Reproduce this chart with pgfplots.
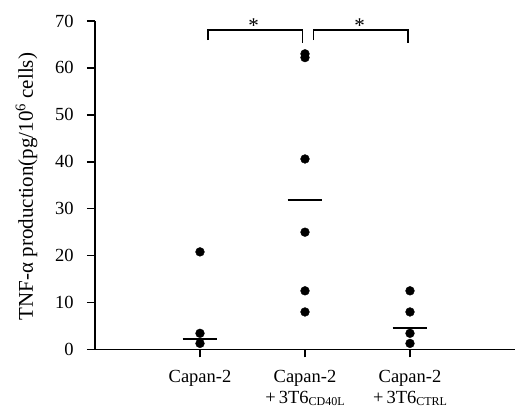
\documentclass[border=0pt]{standalone}
\usepackage{fontspec}
\setmainfont{Liberation Serif}
\usepackage{pgfplots}
\pgfplotsset{compat=1.18}
\newcommand\sub[1]{\raisebox{-2.5pt}{\fontsize{12}{12}\selectfont #1}}

\begin{document}
\fontsize{18.5}{21}\selectfont
\begin{tikzpicture}
\useasboundingbox (-95pt,-59.5pt) rectangle (420pt,349.5pt);
\begin{axis}[
  scale only axis, width=420pt, height=328.5pt,
  at={(0,0)}, anchor=south west,
  xmin=0, xmax=4, ymin=0, ymax=70,
  axis x line*=bottom, axis y line*=left,
  axis line style={-, line width=1.5pt},
  xtick={1,2,3},
  xticklabels={{Capan-2},{Capan-2\\+\,3T6\sub{CD40L}},{Capan-2\\+\,3T6\sub{CTRL}}},
  ytick={0,10,...,70},
  tick align=outside, major tick length=8pt,
  tick style={black, line width=1.5pt},
  tick label style={font=\fontsize{18.5}{21}\selectfont},
  xticklabel style={align=center, yshift=-6pt},
  yticklabel style={xshift=-7pt},
  /pgf/number format/assume math mode=true,
  ylabel={TNF-α production(pg/10\textsuperscript{6} cells)},
  ylabel style={at={(axis description cs:-0.163,0.496)}, anchor=center,
    font=\fontsize{21}{24}\selectfont},
  clip=false,
]
% individual values
\addplot[only marks, mark=*, mark size=4.4pt, black] coordinates {
  (1,20.8)(1,3.45)(1,1.3)
  (2,63.0)(2,62.2)(2,40.6)(2,25.0)(2,12.5)(2,8.0)
  (3,12.5)(3,8.0)(3,3.45)(3,1.3)
};
% group means
\addplot[black, line width=2pt] coordinates {(0.835,2.2)(1.165,2.2)};
\addplot[black, line width=2pt] coordinates {(1.835,31.9)(2.165,31.9)};
\addplot[black, line width=2pt] coordinates {(2.835,4.5)(3.165,4.5)};
% significance brackets
\addplot[black, line width=1.3pt] coordinates {(1.076,65.9)(1.076,68.1)(1.976,68.1)(1.976,65.4)};
\addplot[black, line width=1.3pt] coordinates {(2.08,65.9)(2.08,68.1)(2.98,68.1)(2.98,65.4)};
\node[anchor=base, font=\fontsize{21}{21}\selectfont] at (axis cs:1.51,67.6) {*};
\node[anchor=base, font=\fontsize{21}{21}\selectfont] at (axis cs:2.52,67.6) {*};
\end{axis}
\end{tikzpicture}
\end{document}
